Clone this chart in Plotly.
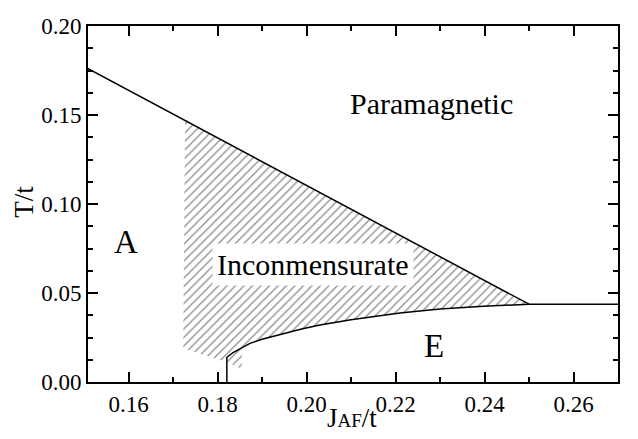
import plotly.graph_objects as go

# Upper phase boundary (A / Incommensurate -> Paramagnetic)
upper_J = [0.15, 0.17, 0.19, 0.20, 0.21, 0.23, 0.25]
upper_T = [0.1772, 0.1505, 0.1240, 0.1108, 0.0975, 0.0706, 0.0437]

# Lower boundary (Incommensurate -> E), with vertical segment and plateau
lower_J = [0.1821, 0.1821, 0.1835, 0.1855, 0.1873, 0.190, 0.195, 0.1989, 0.203,
           0.210, 0.221, 0.230, 0.2397, 0.250, 0.270]
lower_T = [0.0, 0.0139, 0.0165, 0.0192, 0.0217, 0.0240, 0.0275, 0.0298, 0.0320,
           0.0350, 0.0388, 0.0410, 0.0425, 0.0437, 0.0437]

# Hatched incommensurate region outline
hatch_J = [0.1727, 0.19, 0.21, 0.23, 0.25, 0.2397, 0.230, 0.221, 0.210, 0.203,
           0.1989, 0.195, 0.190, 0.1873, 0.1855, 0.1855, 0.1823, 0.1723, 0.1727]
hatch_T = [0.1469, 0.1240, 0.0975, 0.0706, 0.0437, 0.0425, 0.0410, 0.0388, 0.0350,
           0.0320, 0.0298, 0.0275, 0.0240, 0.0217, 0.0192, 0.0073, 0.0110, 0.0190, 0.1469]

# Region labels
label_text = ["Paramagnetic", "A", "E"]
label_J = [0.2280, 0.15955, 0.2287]
label_T = [0.1564, 0.0789, 0.0204]
label_size = [30, 33, 33]

inc_text = "Inconmensurate"
inc_J, inc_T = 0.2015, 0.0659

FONT = "Liberation Serif"

fig = go.Figure()

fig.add_trace(go.Scatter(
    x=hatch_J, y=hatch_T, mode="lines", fill="toself",
    line=dict(width=0, color="rgba(0,0,0,0)"),
    fillcolor="rgba(0,0,0,0)",
    fillpattern=dict(shape="/", size=6, solidity=0.2, fgcolor="#111111",
                     bgcolor="rgba(255,255,255,0)"),
    hoverinfo="skip", showlegend=False))

fig.add_trace(go.Scatter(x=upper_J, y=upper_T, mode="lines",
                         line=dict(color="black", width=1.5), showlegend=False))
fig.add_trace(go.Scatter(x=lower_J, y=lower_T, mode="lines",
                         line=dict(color="black", width=1.5), showlegend=False))

for t, xj, yt, s in zip(label_text, label_J, label_T, label_size):
    fig.add_annotation(x=xj, y=yt, xref="x", yref="y", text=t, showarrow=False,
                       font=dict(family=FONT, size=s, color="black"))

fig.add_annotation(x=inc_J, y=inc_T, xref="x", yref="y", text=inc_text,
                   showarrow=False, bgcolor="white", borderpad=4,
                   font=dict(family=FONT, size=30, color="black"))

# Axis titles
fig.add_annotation(x=-0.122, y=0.507, xref="paper", yref="paper", text="T/t",
                   showarrow=False, textangle=-90, xanchor="center", yanchor="middle",
                   font=dict(family=FONT, size=27, color="#000000"))
fig.add_annotation(x=0.498, y=-0.102, xref="paper", yref="paper",
                   text="J<span style='font-size:19px'>AF</span>/t",
                   showarrow=False, xanchor="center", yanchor="middle",
                   font=dict(family=FONT, size=27, color="#000000"))

fig.update_layout(width=630, height=431, plot_bgcolor="white", paper_bgcolor="white",
                  margin=dict(l=80, r=20, t=6, b=57), showlegend=False,
                  font=dict(family=FONT, size=23, color="#000000"))

common = dict(showline=True, linecolor="black", linewidth=2, mirror="allticks",
              ticks="inside", ticklen=10, tickwidth=1.5, tickcolor="black",
              showgrid=False, zeroline=False, tickformat=".2f",
              ticklabeloverflow="allow",
              tickfont=dict(family=FONT, size=23, color="#000000"))

fig.update_xaxes(range=[0.1509, 0.27], dtick=0.02, tick0=0.16,
                 minor=dict(dtick=0.01, ticks="inside", ticklen=5), **common)
fig.update_yaxes(range=[0, 0.2], dtick=0.05, tick0=0,
                 minor=dict(dtick=0.0125, ticks="inside", ticklen=5), **common)

fig.write_html("out.html")
